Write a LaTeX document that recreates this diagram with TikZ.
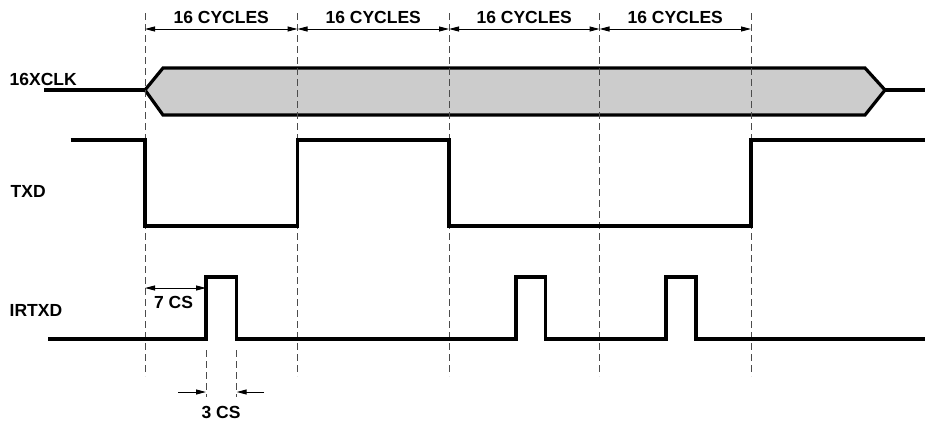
\documentclass[tikz,border=0pt]{standalone}
\usepackage{fontspec}
\setmainfont{Liberation Sans}
\usetikzlibrary{arrows.meta,calc}
\begin{document}
\begin{tikzpicture}[x=1pt,y=-1pt,
  sig/.style={line width=3.2pt,line join=miter},
  guide/.style={line width=1pt,draw=black!70,dash pattern=on 7pt off 4pt},
  dim/.style={line width=1pt,{Triangle[length=10pt,width=5pt]}-{Triangle[length=10pt,width=5pt]}},
  halfdim/.style={line width=1pt,-{Triangle[length=10pt,width=5pt]}},
  lbl/.style={font=\fontsize{17.5}{20}\selectfont\bfseries,inner sep=0pt},
]
\useasboundingbox (0,0) rectangle (925,423);
% column coordinates
\foreach \n/\x in {c0/145,c1/297.5,c2/449,c3/599.5,c4/751}{
  \coordinate (\n t) at (\x,13);
  \coordinate (\n d) at (\x,29);
  \coordinate (\n b) at (\x,376);
}
% 16XCLK bus
\draw[sig,fill=black!20] (145,90) coordinate (hexL) -- (163,68) -- (865,68) -- (885,90) coordinate (hexR) -- (865,115) -- (163,115) -- cycle;
\coordinate (clkS) at (44,90);
\coordinate (clkE) at (925,90);
\draw[sig] (clkS) -- (hexL);
\draw[sig] (hexR) -- (clkE);
% guide lines
\foreach \n in {c0,c1,c2,c3,c4}{ \draw[guide] (\n t) -- (\n b); }
\coordinate (p1L) at (206,350); \coordinate (p1Lb) at (206,397);
\coordinate (p1R) at (236.7,350); \coordinate (p1Rb) at (236.7,397);
\draw[guide] (p1L) -- (p1Lb);
\draw[guide] (p1R) -- (p1Rb);
% dimension arrows
\draw[dim] (c0d) -- (c1d);
\draw[dim] (c1d) -- (c2d);
\draw[dim] (c2d) -- (c3d);
\draw[dim] (c3d) -- (c4d);
\foreach \a/\b/\k in {c0/c1/1,c1/c2/2,c2/c3/3,c3/c4/4}{
  \node[lbl] (cyc\k) at ($(\a t)!0.5!(\b t)+(0,4.5)$) {16 CYCLES};
}
% TXD
\draw[sig] (70.7,140) coordinate (txS) -- (145,140) -- (145,226) -- (297.5,226) -- (297.5,140) -- (449,140) -- (449,226) -- (751,226) -- (751,140) -- (925,140) coordinate (txE);
% IRTXD
\draw[sig] (48,339) coordinate (irS) -- (206,339) -- (206,277) -- (236.7,277) -- (236.7,339)
  -- (516,339) -- (516,277) -- (545.7,277) -- (545.7,339)
  -- (666,339) -- (666,277) -- (696,277) -- (696,339) -- (925,339) coordinate (irE);
% 7 CS
\coordinate (sA) at (145,288); \coordinate (sB) at (206,288);
\draw[dim] (sA) -- (sB);
\node[lbl] (sevencs) at (173.5,302.5) {7 CS};
% 3 CS
\coordinate (tA) at (178,392); \coordinate (tAe) at (206,392);
\coordinate (tB) at (264,392); \coordinate (tBe) at (236.7,392);
\draw[halfdim] (tA) -- (tAe);
\draw[halfdim] (tB) -- (tBe);
\node[lbl] (threecs) at (221,412) {3 CS};
% labels
\node[lbl,anchor=west] (lclk) at (9.5,79.5) {16XCLK};
\node[lbl,anchor=west] (ltxd) at (10.5,191) {TXD};
\node[lbl,anchor=west] (lir) at (9.5,310) {IRTXD};
\end{tikzpicture}
\end{document}
